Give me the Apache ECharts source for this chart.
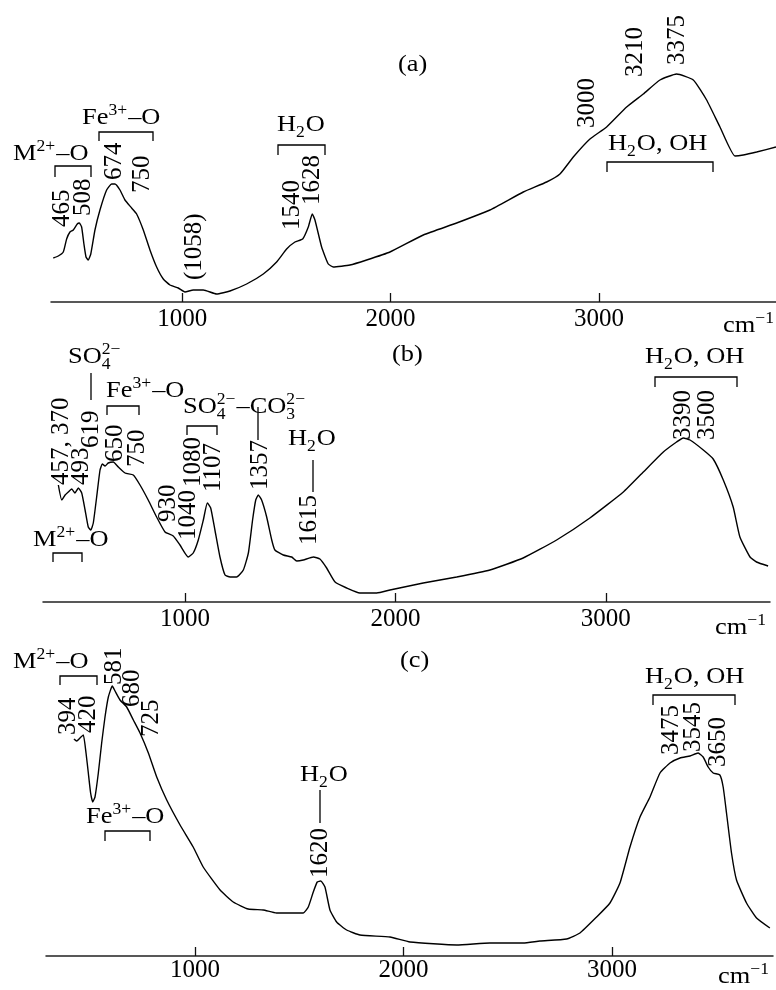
<!DOCTYPE html>
<html><head><meta charset="utf-8">
<script src="https://cdn.jsdelivr.net/npm/echarts@6/dist/echarts.min.js"></script>
<style>html,body{margin:0;padding:0;background:#fff}#c{width:776px;height:990px}</style>
</head><body><div id="c"></div>
<script>
// ---------- data (wavenumber, cm-1 ; absorbance in arbitrary units) ----------
const tickValues = [1000, 2000, 3000];

const aWave = [381,405,429,445,461,477,496,506,517,528,538,549,561,581,605,637,661,677,701,725,757,781,813,845,877,909,941,981,1013,1053,1101,1165,1229,1309,1389,1453,1501,1541,1578,1605,1624,1637,1669,1701,1725,1805,1885,1997,2157,2317,2477,2637,2749,2813,2877,2957,3037,3133,3213,3293,3373,3453,3517,3581,3653,3693,3757,3850];
const aAbs  = [44,46,50,63,70,72,78,79,75,58,45,42,48,72,92,112,118,118,112,102,94,88,72,52,35,23,17,14,10,12,12,8,11,18,28,40,53,60,63,75,88,82,55,38,35,37,42,50,67,79,92,110,120,128,145,163,175,195,208,222,228,222,202,175,146,147,150,155];

const bWave = [398,414,430,445,461,477,493,509,525,540,552,564,580,596,607,620,635,659,683,715,754,786,825,865,905,944,976,1015,1039,1063,1087,1106,1122,1142,1166,1190,1214,1245,1277,1301,1321,1336,1348,1364,1388,1412,1427,1467,1507,1531,1562,1610,1641,1673,1713,1768,1831,1911,1974,2132,2291,2449,2607,2766,2924,3083,3178,3273,3336,3368,3400,3463,3510,3558,3605,3637,3685,3716,3771];
const bAbs  = [117,102,107,110,113,109,114,109,92,75,72,79,105,132,138,136,139,140,135,129,127,117,102,85,70,66,57,45,49,62,82,99,94,72,45,27,25,25,32,49,82,102,107,102,85,62,52,47,45,41,42,45,43,34,20,14,9,9,12,19,25,32,44,62,84,110,130,150,160,164,162,152,143,122,95,65,45,40,36];

const cWave = [419,432,448,464,477,488,499,509,520,536,552,568,584,603,616,640,672,704,736,776,816,864,928,991,1039,1120,1183,1255,1327,1391,1455,1519,1543,1567,1586,1603,1623,1647,1679,1727,1791,1935,2031,2255,2414,2574,2654,2782,2846,2926,2990,3038,3086,3134,3182,3230,3278,3326,3374,3413,3437,3461,3485,3517,3533,3549,3573,3597,3645,3693,3757];
const cAbs  = [217,215,218,221,203,183,163,154,159,183,213,239,259,270,265,256,249,236,223,203,179,156,131,109,89,66,54,47,46,43,43,43,49,64,74,75,69,46,34,26,21,19,14,11,13,13,15,17,23,39,53,73,109,139,159,183,193,198,200,203,199,189,183,181,169,143,103,76,53,38,28];

// band labels (text)
const aPeaks = ['465','508','674','750','(1058)','1540','1628','3000','3210','3375'];
const bPeaks = ['457, 370','493','619','650','750','930','1040','1080','1107','1357','1615','3390','3500'];
const cPeaks = ['394','420','581','680','725','1620','3475','3545','3650'];
const aGroups = ['M^{2+}–O','Fe^{3+}–O','H_{2}O','H_{2}O, OH'];
const bGroups = ['SO_{4}^{2−}','Fe^{3+}–O','SO_{4}^{2−}–CO_{3}^{2−}','H_{2}O','H_{2}O, OH','M^{2+}–O'];
const cGroups = ['M^{2+}–O','Fe^{3+}–O','H_{2}O','H_{2}O, OH'];
const panelNames = ['(a)','(b)','(c)'];
const unitLabel = 'cm^{−1}';

// ---------- layout of annotations (pixels) ----------
const aPeakPos = [[62,227],[83,216],[114,180],[142,193],[194,280],[292,230],[312,205],[587,128],[635,77],[677,65]];
const bPeakPos = [[61,485],[81,485],[91,448],[115,462],[137,467],[168,522],[188,540],[193,487],[213,492],[260,490],[309,545],[683,440],[707,440]];
const cPeakPos = [[68,735],[88,733],[114,685],[132,707],[151,737],[320,878],[671,755],[693,752],[718,767]];
const aGroupPos = [[13,162],[82,126],[277,133],[608,152]];
const bGroupPos = [[68,365],[106,399],[183,415],[288,447],[645,365],[33,548]];
const cGroupPos = [[13,670],[86,825],[300,783],[645,685]];
const namePos = [[398,65],[392,355],[400,661]];
const unitPos = [[723,334],[715,636],[718,985]];
const brackets = [[55,91,166,177],[99,153,132,141],[278,325,145,155],[607,713,162,172],
                  [107,139,406,415],[187,217,426,435],[655,737,377,387],[53,82,553,562],
                  [60,97,676,685],[105,150,831,841],[653,735,695,705]];
const vlines = [[91,373,400],[258,407,440],[313,460,492],[320,790,823]];

// ---------- drawing ----------
const FF = '"Liberation Serif","Times New Roman",serif';
const BS = 24, SS = 16, SX = 1.1, NS = 25;
const mctx = document.createElement('canvas').getContext('2d');
function tw(s, size){ mctx.font = size + 'px ' + FF; return mctx.measureText(s).width; }
const G = [];
function addText(x, baseline, s, size, rot, sx){
  const y = rot ? baseline : baseline - 0.34 * size;
  G.push({type:'text', x:x, y:y, rotation: rot || 0, scaleX: sx || 1, silent:true, z:100,
    style:{text:s, font: size + 'px ' + FF, fill:'#000',
      textAlign:'left', textVerticalAlign:'middle', align:'left', verticalAlign:'middle'}});
}
function parseChem(s){
  const out = []; let i = 0;
  const isMark = k => (s[k] === '_' || s[k] === '^') && s[k+1] === '{';
  while (i < s.length){
    if (isMark(i)){
      const j = s.indexOf('}', i); const v = s.slice(i+2, j); const k = s[i] === '_' ? 'sub' : 'sup';
      const last = out[out.length-1];
      if (last && typeof last === 'object' && !last[k]) last[k] = v; else out.push({[k]: v});
      i = j + 1;
    } else { let j = i; while (j < s.length && !isMark(j)) j++; out.push(s.slice(i, j)); i = j; }
  }
  return out;
}
function chem(x0, base, s){
  let x = x0;
  parseChem(s).forEach(p => {
    if (typeof p === 'string'){ addText(x, base, p, BS, 0, SX); x += tw(p, BS) * SX; }
    else {
      let w = 0;
      if (p.sup){ addText(x, base - 10, p.sup, SS, 0, SX); w = Math.max(w, tw(p.sup, SS)); }
      if (p.sub){ addText(x, base + 5, p.sub, SS, 0, SX); w = Math.max(w, tw(p.sub, SS)); }
      x += w * SX + 1;
    }
  });
}
function vnum(pos, s){ addText(pos[0], pos[1], s, NS, Math.PI/2); }
aPeaks.forEach((s,i) => vnum(aPeakPos[i], s));
bPeaks.forEach((s,i) => vnum(bPeakPos[i], s));
cPeaks.forEach((s,i) => vnum(cPeakPos[i], s));
aGroups.forEach((s,i) => chem(aGroupPos[i][0], aGroupPos[i][1], s));
bGroups.forEach((s,i) => chem(bGroupPos[i][0], bGroupPos[i][1], s));
cGroups.forEach((s,i) => chem(cGroupPos[i][0], cGroupPos[i][1], s));
panelNames.forEach((s,i) => G.push({type:'text', x:namePos[i][0], y:namePos[i][1], silent:true, scaleX:SX,
  style:{text:s, font: BS + 'px ' + FF, fill:'#000', textAlign:'left', textVerticalAlign:'middle', align:'left', verticalAlign:'middle'}}));
unitPos.forEach(p => chem(p[0], p[1], unitLabel));
const LS = {stroke:'#000', fill:null, lineWidth:1.3};
brackets.forEach(b => G.push({type:'polyline', silent:true, shape:{points:[[b[0],b[3]],[b[0],b[2]],[b[1],b[2]],[b[1],b[3]]]}, style:LS}));
vlines.forEach(v => G.push({type:'polyline', silent:true, shape:{points:[[v[0],v[1]],[v[0],v[2]]]}, style:LS}));

const zip = (w, a) => w.map((x, i) => [x, a[i]]);
const grids = [
  {left:51, right:0, top:2, height:300},
  {left:43, right:6, top:302, height:300},
  {left:46, right:3, top:656, height:300}
];
const xr = [[370,3850],[325,3780],[285,3772]];
const margins = [5, 5, 2];
const xAxes = xr.map((r, i) => ({
  type:'value', gridIndex:i, min:r[0], max:r[1], position:'bottom',
  splitLine:{show:false},
  axisLine:{show:true, onZero:false, lineStyle:{color:'#222', width:1.5}},
  axisTick:{show:true, inside:true, length:9, customValues:tickValues, lineStyle:{color:'#111', width:1.3}},
  axisLabel:{show:true, customValues:tickValues, margin:margins[i], fontSize:NS, fontFamily:FF, color:'#000',
    formatter: v => String(v)}
}));
const yAxes = [0,1,2].map(i => ({type:'value', gridIndex:i, min:0, max:300, show:false}));
const series = [[aWave,aAbs],[bWave,bAbs],[cWave,cAbs]].map((d, i) => ({
  type:'line', xAxisIndex:i, yAxisIndex:i, data: zip(d[0], d[1]), showSymbol:false, smooth:0.15,
  lineStyle:{color:'#000', width:1.4}, animation:false
}));

const chart = echarts.init(document.getElementById('c'), null, {renderer:'canvas'});
chart.setOption({
  backgroundColor:'#fff', animation:false,
  grid: grids, xAxis: xAxes, yAxis: yAxes, series: series, graphic: G
});
</script></body></html>
